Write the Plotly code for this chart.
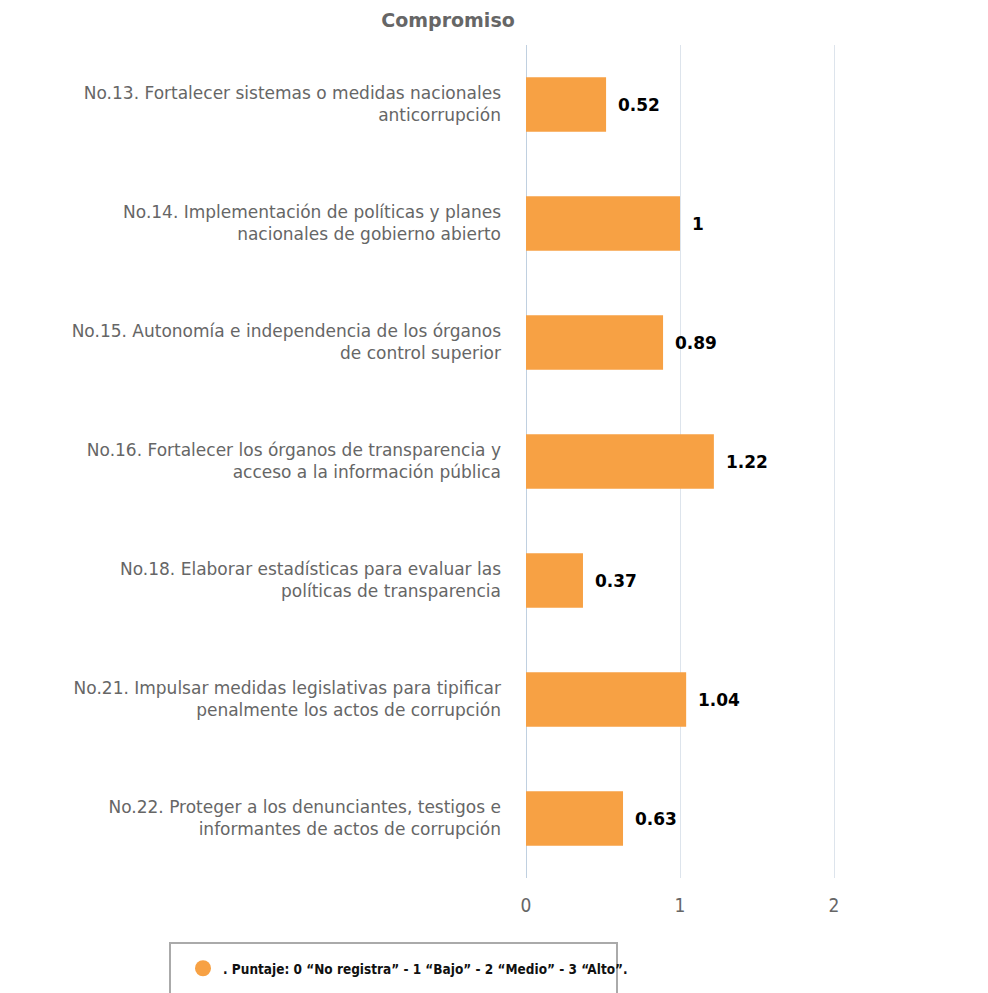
import plotly.graph_objects as go

categories = [
    "No.13. Fortalecer sistemas o medidas nacionales<br>anticorrupción",
    "No.14. Implementación de políticas y planes<br>nacionales de gobierno abierto",
    "No.15. Autonomía e independencia de los órganos<br>de control superior",
    "No.16. Fortalecer los órganos de transparencia y<br>acceso a la información pública",
    "No.18. Elaborar estadísticas para evaluar las<br>políticas de transparencia",
    "No.21. Impulsar medidas legislativas para tipificar<br>penalmente los actos de corrupción",
    "No.22. Proteger a los denunciantes, testigos e<br>informantes de actos de corrupción",
]
values = [0.52, 1, 0.89, 1.22, 0.37, 1.04, 0.63]
tick_vals = [0, 1, 2, 3]
series_name = ". Puntaje: 0 “No registra” - 1 “Bajo” - 2 “Medio” - 3 “Alto”."
title_text = "Compromiso"

BAR = "#f7a144"
NARROW = "DejaVu Sans Condensed, Liberation Sans Narrow, DejaVu Sans"

# page offset (browser body margin) compensation
W, H = 980, 985
L, T = 518, 37
PW, PH = W - L, 833
B = H - T - PH


def px_x(px):
    return (px - 8 - L) / PW


def px_y(py):
    return (T + PH - (py - 8)) / PH


fig = go.Figure()
fig.add_trace(go.Bar(
    x=values, y=categories, orientation="h",
    marker=dict(color=BAR, line=dict(width=0)),
    showlegend=False, hoverinfo="x+y",
))
fig.add_trace(go.Scatter(
    x=[None], y=[None], mode="markers", name=series_name,
    marker=dict(symbol="circle", size=20, color=BAR),
    showlegend=True,
))

for c, v in zip(categories, values):
    fig.add_annotation(
        x=v, y=c, text=f"{v:g}", showarrow=False, xanchor="left", xshift=10,
        font=dict(family="DejaVu Sans", size=17, color="#000000", weight="bold"),
    )

# legend frame
fig.add_shape(
    type="rect", xref="paper", yref="paper",
    x0=px_x(170), x1=px_x(617), y0=px_y(1010), y1=px_y(943),
    line=dict(color="#aaaaaa", width=2), fillcolor="rgba(0,0,0,0)", layer="below",
)

fig.update_layout(
    width=W, height=H,
    margin=dict(l=L, r=0, t=T, b=B, autoexpand=False),
    paper_bgcolor="white", plot_bgcolor="white",
    bargap=0.54,
    font=dict(family="DejaVu Sans", size=17, color="#666666"),
    title=dict(text=f"<b>{title_text}</b>", x=(448 - 8) / W, xanchor="center",
               y=1 - (20 - 8) / H, yanchor="middle",
               font=dict(family="DejaVu Sans", size=19, color="#666666")),
    showlegend=True,
    legend=dict(
        orientation="h", x=px_x(183), xanchor="left", y=px_y(953), yanchor="top",
        bgcolor="rgba(0,0,0,0)", borderwidth=0,
        font=dict(family=NARROW, size=13.5, color="#111111", weight="bold"),
        itemsizing="trace",
    ),
    xaxis=dict(
        range=[0, 3], tickvals=tick_vals, ticktext=[str(t) for t in tick_vals],
        showgrid=True, gridcolor="#dde4ec", gridwidth=1,
        zeroline=True, zerolinecolor="#c0d0e0", zerolinewidth=1,
        showline=False, ticks="", ticklabelstandoff=14, automargin=False,
        ticklabeloverflow="allow",
        tickfont=dict(family=NARROW, size=19, color="#666666"),
        fixedrange=True,
    ),
    yaxis=dict(
        autorange="reversed", showgrid=False, zeroline=False, showline=False,
        ticks="", ticklabelstandoff=24, automargin=False,
        tickfont=dict(family="DejaVu Sans", size=17, color="#666666"),
    ),
)

fig.write_html("out.html")
